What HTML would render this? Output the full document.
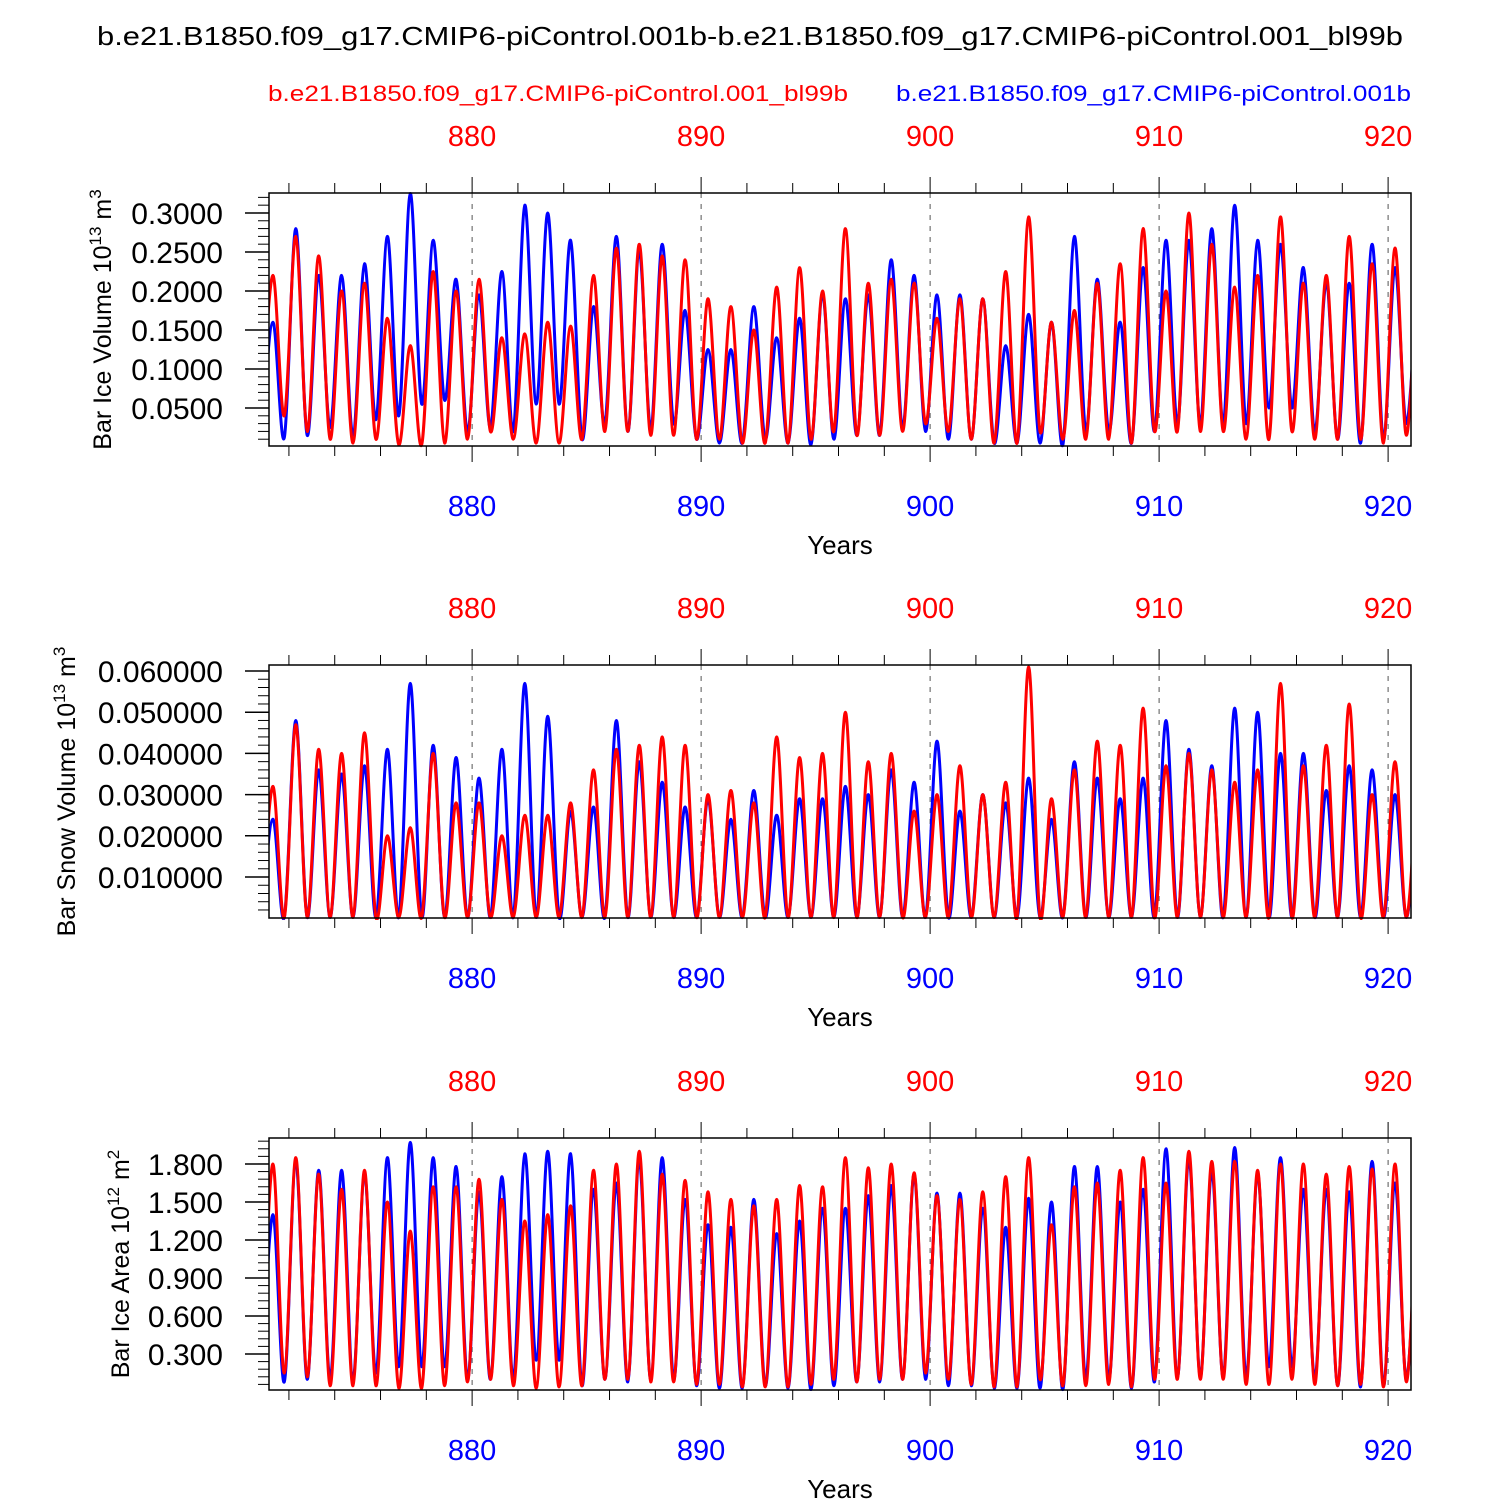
<!DOCTYPE html>
<html><head><meta charset="utf-8"><style>
body{margin:0;background:#fff}
svg{display:block;font-family:"Liberation Sans",Helvetica,sans-serif}
</style></head><body>
<svg id="c" width="1500" height="1500" viewBox="0 0 1500 1500" xmlns="http://www.w3.org/2000/svg">
<text x="97" y="45" font-size="26" textLength="1306" lengthAdjust="spacingAndGlyphs">b.e21.B1850.f09_g17.CMIP6-piControl.001b-b.e21.B1850.f09_g17.CMIP6-piControl.001_bl99b</text>
<text x="268" y="101" font-size="22" fill="#ff0000" textLength="580" lengthAdjust="spacingAndGlyphs">b.e21.B1850.f09_g17.CMIP6-piControl.001_bl99b</text>
<text x="896" y="101" font-size="22" fill="#0000ff" textLength="515" lengthAdjust="spacingAndGlyphs">b.e21.B1850.f09_g17.CMIP6-piControl.001b</text>
</svg>
<script>
const years=[];for(let y=871;y<=920;y++)years.push(y);
const xTicks=[880,890,900,910,920];
// Plot 1: ice volume
const iceVolRedMax=[0.22,0.27,0.245,0.2,0.21,0.165,0.13,0.225,0.2,0.215,0.14,0.145,0.16,0.155,0.22,0.255,0.26,0.245,0.24,0.19,0.18,0.15,0.205,0.23,0.2,0.28,0.21,0.215,0.21,0.165,0.19,0.19,0.225,0.295,0.16,0.175,0.21,0.235,0.28,0.2,0.3,0.26,0.205,0.22,0.295,0.21,0.22,0.27,0.235,0.255];
const iceVolRedMin=[0.04,0.02,0.01,0.005,0.01,0.003,0.003,0.005,0.01,0.02,0.01,0.005,0.005,0.01,0.02,0.02,0.015,0.015,0.01,0.01,0.005,0.005,0.005,0.01,0.02,0.015,0.015,0.02,0.03,0.02,0.01,0.005,0.005,0.02,0.01,0.01,0.01,0.005,0.02,0.02,0.02,0.02,0.01,0.01,0.02,0.01,0.01,0.01,0.005,0.015];
const iceVolBlueMax=[0.16,0.28,0.22,0.22,0.235,0.27,0.325,0.265,0.215,0.195,0.225,0.31,0.3,0.265,0.18,0.27,0.25,0.26,0.175,0.125,0.125,0.18,0.14,0.165,0.195,0.19,0.195,0.24,0.22,0.195,0.195,0.19,0.13,0.17,0.16,0.27,0.215,0.16,0.23,0.265,0.265,0.28,0.31,0.265,0.26,0.23,0.21,0.21,0.26,0.23];
const iceVolBlueMin=[0.012,0.015,0.025,0.015,0.035,0.04,0.055,0.06,0.02,0.025,0.02,0.055,0.055,0.01,0.03,0.02,0.025,0.03,0.01,0.005,0.005,0.01,0.005,0.003,0.01,0.015,0.015,0.025,0.02,0.01,0.01,0.005,0.005,0.005,0.003,0.02,0.02,0.005,0.02,0.03,0.03,0.03,0.03,0.05,0.05,0.02,0.01,0.005,0.01,0.03];
// Plot 2: snow volume
const snowRedMax=[0.032,0.047,0.041,0.040,0.045,0.020,0.022,0.040,0.028,0.028,0.020,0.025,0.025,0.028,0.036,0.041,0.042,0.044,0.042,0.030,0.031,0.028,0.044,0.039,0.040,0.050,0.038,0.040,0.026,0.030,0.037,0.030,0.033,0.061,0.029,0.036,0.043,0.042,0.051,0.037,0.040,0.036,0.033,0.036,0.057,0.037,0.042,0.052,0.030,0.038];
const snowBlueMax=[0.024,0.048,0.036,0.035,0.037,0.041,0.057,0.042,0.039,0.034,0.041,0.057,0.049,0.026,0.027,0.048,0.038,0.033,0.027,0.029,0.024,0.031,0.025,0.029,0.029,0.032,0.030,0.036,0.033,0.043,0.026,0.030,0.028,0.034,0.024,0.038,0.034,0.029,0.034,0.048,0.041,0.037,0.051,0.050,0.040,0.040,0.031,0.037,0.036,0.030];
const snowMin=new Array(50).fill(0.0002);
// Plot 3: ice area
const areaRedMax=[1.8,1.85,1.72,1.6,1.75,1.5,1.27,1.62,1.62,1.68,1.52,1.35,1.4,1.47,1.75,1.8,1.9,1.72,1.67,1.58,1.52,1.47,1.52,1.63,1.62,1.85,1.77,1.8,1.73,1.55,1.52,1.58,1.7,1.85,1.32,1.62,1.65,1.75,1.85,1.65,1.9,1.82,1.82,1.75,1.8,1.8,1.72,1.78,1.76,1.8];
const areaRedMin=[0.15,0.12,0.05,0.05,0.05,0.03,0.03,0.05,0.08,0.1,0.05,0.03,0.04,0.05,0.1,0.1,0.08,0.08,0.06,0.06,0.04,0.04,0.04,0.06,0.1,0.08,0.1,0.1,0.15,0.1,0.06,0.04,0.04,0.1,0.05,0.05,0.06,0.04,0.1,0.1,0.1,0.1,0.06,0.06,0.1,0.06,0.05,0.06,0.04,0.08];
const areaBlueMax=[1.4,1.82,1.75,1.75,1.72,1.85,1.97,1.85,1.78,1.58,1.7,1.88,1.9,1.88,1.6,1.65,1.82,1.85,1.52,1.32,1.3,1.52,1.25,1.35,1.45,1.45,1.55,1.63,1.72,1.57,1.57,1.45,1.3,1.53,1.5,1.78,1.78,1.5,1.6,1.92,1.85,1.75,1.93,1.72,1.85,1.6,1.6,1.58,1.82,1.65];
const areaBlueMin=[0.08,0.1,0.1,0.1,0.15,0.2,0.2,0.2,0.1,0.1,0.1,0.25,0.25,0.05,0.1,0.08,0.1,0.1,0.05,0.03,0.03,0.05,0.03,0.02,0.05,0.08,0.08,0.1,0.1,0.05,0.05,0.03,0.03,0.03,0.02,0.1,0.1,0.03,0.08,0.12,0.12,0.12,0.12,0.2,0.2,0.1,0.05,0.04,0.05,0.1];

const NS="http://www.w3.org/2000/svg";
const svg=document.getElementById('c');
const X0=269,X1=1411,T0=871.13,T1=921.0;
const xs=t=>X0+(t-T0)/(T1-T0)*(X1-X0);
function el(tag,attrs,parent){const e=document.createElementNS(NS,tag);for(const k in attrs)e.setAttribute(k,attrs[k]);(parent||svg).appendChild(e);return e;}
function txt(s,attrs){const e=el('text',attrs);e.textContent=s;return e;}

const panels=[
 {top:193,bot:446,lo:0.0013,hi:0.3256,ticks:[0.05,0.1,0.15,0.2,0.25,0.3],fmt:v=>v.toFixed(4),minor:0.01,
  label:'Bar Ice Volume 10',sup:'13',unit:' m',usup:'3',lx:111,
  series:[[iceVolBlueMax,iceVolBlueMin,'#0000ff','blue'],[iceVolRedMax,iceVolRedMin,'#ff0000','red']]},
 {top:665,bot:918,lo:0.00005,hi:0.06146,ticks:[0.01,0.02,0.03,0.04,0.05,0.06],fmt:v=>v.toFixed(6),minor:0.002,
  label:'Bar Snow Volume 10',sup:'13',unit:' m',usup:'3',lx:75,
  series:[[snowBlueMax,snowMin,'#0000ff','blue'],[snowRedMax,snowMin,'#ff0000','red']]},
 {top:1138,bot:1390,lo:0.0158,hi:2.005,ticks:[0.3,0.6,0.9,1.2,1.5,1.8],fmt:v=>v.toFixed(3),minor:0.06,
  label:'Bar Ice Area 10',sup:'12',unit:' m',usup:'2',lx:129,
  series:[[areaBlueMax,areaBlueMin,'#0000ff','blue'],[areaRedMax,areaRedMin,'#ff0000','red']]}
];
const pnames=['ice-volume','snow-volume','ice-area'];
panels.forEach((p,pi)=>{
 const ys=v=>p.bot-(v-p.lo)/(p.hi-p.lo)*(p.bot-p.top);
 const g=el('g',{});
 
 
 const cid='clip'+pi;
 const cp=el('clipPath',{id:cid},g);el('rect',{x:X0,y:p.top-2,width:X1-X0,height:p.bot-p.top+4},cp);
 xTicks.forEach(t=>{const l=el('line',{x1:xs(t),x2:xs(t),y1:p.top,y2:p.bot,stroke:'#555','stroke-width':1,'stroke-dasharray':'5,6'},g);
  });
 p.series.forEach(([mx,mn,col,nm])=>{
  const pts=[];
  pts.push([870.8,mn[0]]);
  years.forEach((y,i)=>{pts.push([y+0.3,mx[i]]);pts.push([y+0.8,mn[i]]);});
  pts.push([921.3,mx[mx.length-1]]);
  const P=pts.map(([t,v])=>[xs(t),ys(v)]);
  let d='M'+P[0][0]+','+P[0][1];
  for(let i=0;i<P.length-1;i++){
   const p0=P[Math.max(i-1,0)],p1=P[i],p2=P[i+1],p3=P[Math.min(i+2,P.length-1)];
   const c1=[p1[0]+(p2[0]-p0[0])/6,p1[1]+(p2[1]-p0[1])/6];
   const c2=[p2[0]-(p3[0]-p1[0])/6,p2[1]-(p3[1]-p1[1])/6];
   d+=`C${c1[0].toFixed(1)},${c1[1].toFixed(1)} ${c2[0].toFixed(1)},${c2[1].toFixed(1)} ${p2[0].toFixed(1)},${p2[1].toFixed(1)}`;
  }
  const path=el('path',{d:d,fill:'none',stroke:col,'stroke-width':3,'clip-path':`url(#${cid})`,'stroke-linejoin':'round'},g);
  
  
 });
 const fr=el('rect',{x:X0,y:p.top,width:X1-X0,height:p.bot-p.top,fill:'none',stroke:'#000','stroke-width':1.5},g);
 
 for(let v=Math.ceil(p.lo/p.minor)*p.minor;v<=p.hi;v+=p.minor){el('line',{x1:X0-11,x2:X0,y1:ys(v),y2:ys(v),stroke:'#000','stroke-width':1},g);}
 p.ticks.forEach(v=>{el('line',{x1:X0-24,x2:X0,y1:ys(v),y2:ys(v),stroke:'#000','stroke-width':1.5},g);
  const t=txt(p.fmt(v),{x:223,y:ys(v)+11,'text-anchor':'end','font-size':30});
  });
 for(let y=872;y<=920;y+=2){const L=(y%10==0)?16:10;
  el('line',{x1:xs(y),x2:xs(y),y1:p.top-L,y2:p.top,stroke:'#000','stroke-width':1},g);
  el('line',{x1:xs(y),x2:xs(y),y1:p.bot,y2:p.bot+L,stroke:'#000','stroke-width':1},g);}
 xTicks.forEach(t=>{
  const a=txt(String(t),{x:xs(t),y:p.top-47,'text-anchor':'middle','font-size':29,fill:'#ff0000'});
  
  const b=txt(String(t),{x:xs(t),y:p.bot+70,'text-anchor':'middle','font-size':29,fill:'#0000ff'});
  
 });
 const xt=txt('Years',{x:840,y:p.bot+108,'text-anchor':'middle','font-size':26});
 
 const cy=(p.top+p.bot)/2;
 const yt=el('text',{x:0,y:0,'font-size':25,'text-anchor':'middle',transform:`translate(${p.lx},${cy}) rotate(-90)`});
 
 const s1=document.createElementNS(NS,'tspan');s1.textContent=p.label;yt.appendChild(s1);
 const s2=document.createElementNS(NS,'tspan');s2.setAttribute('dy','-10');s2.setAttribute('font-size','17');s2.textContent=p.sup;yt.appendChild(s2);
 const s3=document.createElementNS(NS,'tspan');s3.setAttribute('dy','10');s3.textContent=p.unit;yt.appendChild(s3);
 const s4=document.createElementNS(NS,'tspan');s4.setAttribute('dy','-10');s4.setAttribute('font-size','17');s4.textContent=p.usup;yt.appendChild(s4);
});
</script>
</body></html>
